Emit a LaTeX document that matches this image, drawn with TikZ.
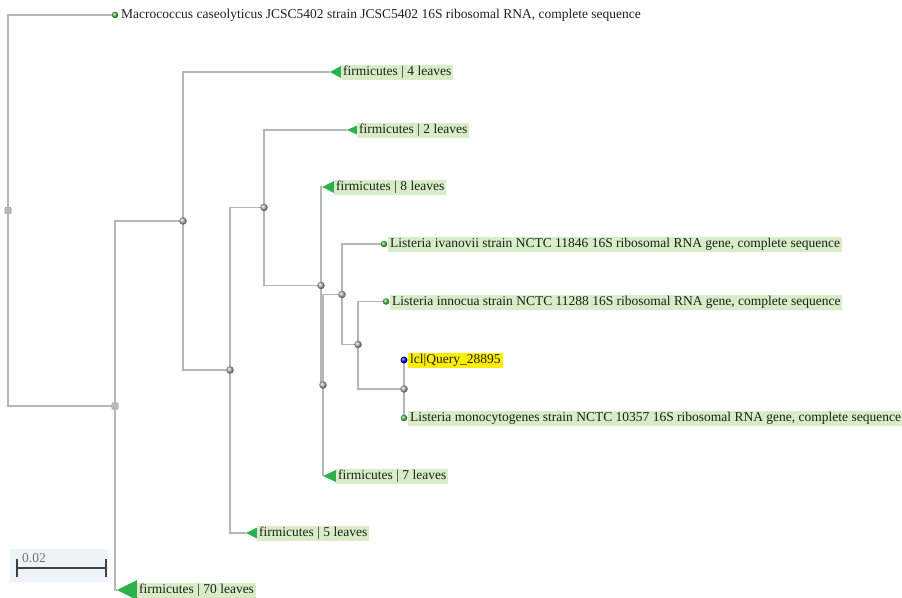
\documentclass[tikz,border=0pt]{standalone}
\usepackage{fontspec}
\setmainfont{Liberation Serif}
\definecolor{edgec}{HTML}{B0B8B8}
\definecolor{labg}{HTML}{D8ECC8}
\definecolor{trig}{HTML}{2EB04C}
\definecolor{qyel}{HTML}{FFEE00}
\definecolor{scbg}{HTML}{EEF3F7}
\definecolor{txt}{HTML}{1A221A}
\definecolor{dotg}{HTML}{48C048}
\begin{document}
\begin{tikzpicture}[x=1bp,y=-1bp,
  edge/.style={draw=edgec,line width=1.2bp},
  inode/.style={circle,inner sep=0pt,minimum size=7.5bp,shading=ball,ball color=gray!60},
  rnode/.style={rectangle,rounded corners=1bp,inner sep=0pt,minimum size=6.5bp,fill=gray!55,draw=gray!75,line width=0.4bp},
  leafdot/.style={circle,inner sep=0pt,minimum size=6.5bp,shading=ball,ball color=dotg},
  qdot/.style={circle,inner sep=0pt,minimum size=7bp,shading=ball,ball color=blue!75!black},
  tri/.style={fill=trig},
  leaflab/.style={anchor=west,fill=labg,inner xsep=2bp,inner ysep=0pt,minimum height=15bp,text=txt,font=\fontsize{13.55}{15}\selectfont},
  plainlab/.style={anchor=west,inner xsep=2bp,inner ysep=0pt,minimum height=15bp,text=txt,font=\fontsize{13.55}{15}\selectfont},
  qlab/.style={leaflab,fill=qyel}]
\useasboundingbox (0,0) rectangle (902,598);
% internal nodes
\coordinate (R) at (8,210.5);
\coordinate (I) at (115,406);
\coordinate (H) at (183,221);
\coordinate (G) at (230,370);
\coordinate (F) at (264,207.5);
\coordinate (A) at (321,285.5);
\coordinate (B) at (323,385);
\coordinate (C) at (342,294.5);
\coordinate (D) at (358,344.5);
\coordinate (E) at (404,389);
% leaves
\coordinate (mac) at (115,15);
\coordinate (t4) at (330,72);
\coordinate (t2) at (347,130);
\coordinate (t8) at (322,187);
\coordinate (t7) at (323,476);
\coordinate (t5) at (246,533);
\coordinate (t70) at (117,590);
\coordinate (iva) at (384,244);
\coordinate (inn) at (386,301.5);
\coordinate (qry) at (404,360);
\coordinate (mon) at (404,418);
% edges
\draw[edge] (R) |- (mac);
\draw[edge] (R) |- (I);
\draw[edge] (I) |- (H);
\draw[edge] (I) |- (t70);
\draw[edge] (H) |- (t4);
\draw[edge] (H) |- (G);
\draw[edge] (G) |- (F);
\draw[edge] (G) |- (t5);
\draw[edge] (F) |- (t2);
\draw[edge] (F) |- (A);
\draw[edge] (A) |- (t8);
\draw[edge] (A) |- (B);
\draw[edge] (B) |- (C);
\draw[edge] (B) |- (t7);
\draw[edge] (C) |- (iva);
\draw[edge] (C) |- (D);
\draw[edge] (D) |- (inn);
\draw[edge] (D) |- (E);
\draw[edge] (E) |- (qry);
\draw[edge] (E) |- (mon);
% triangles
\fill[tri] (t4) -- ++(11,-6) -- ++(0,12) -- cycle;
\fill[tri] (t2) -- ++(10,-4.5) -- ++(0,9) -- cycle;
\fill[tri] (t8) -- ++(12,-6) -- ++(0,12) -- cycle;
\fill[tri] (t7) -- ++(13,-6) -- ++(0,12) -- cycle;
\fill[tri] (t5) -- ++(11,-5.5) -- ++(0,11) -- cycle;
\fill[tri] (t70) -- ++(20,-10) -- ++(0,20) -- cycle;
% markers
\node[rnode] (Rn) at (R) {};
\node[rnode] (In) at (I) {};
\foreach \n in {H,G,F,A,B,C,D,E} \node[inode] (\n n) at (\n) {};
\node[leafdot] (macd) at (mac) {};
\node[leafdot] (ivad) at (iva) {};
\node[leafdot] (innd) at (inn) {};
\node[qdot] (qryd) at (qry) {};
\node[leafdot] (mond) at (mon) {};
% labels
\node[plainlab] (lmac) at (119,15.5) {Macrococcus caseolyticus JCSC5402 strain JCSC5402 16S ribosomal RNA, complete sequence};
\node[leaflab] (l4) at (341,72.5) {firmicutes | 4 leaves};
\node[leaflab] (l2) at (357,130.5) {firmicutes | 2 leaves};
\node[leaflab] (l8) at (334,187.5) {firmicutes | 8 leaves};
\node[leaflab] (l7) at (336,476.5) {firmicutes | 7 leaves};
\node[leaflab] (l5) at (257,533.5) {firmicutes | 5 leaves};
\node[leaflab] (l70) at (137,590.5) {firmicutes | 70 leaves};
\node[leaflab] (liva) at (388,244.5) {Listeria ivanovii strain NCTC 11846 16S ribosomal RNA gene, complete sequence};
\node[leaflab] (linn) at (390,302) {Listeria innocua strain NCTC 11288 16S ribosomal RNA gene, complete sequence};
\node[qlab] (lqry) at (408,360.5) {lcl|Query\_28895};
\node[leaflab] (lmon) at (408,418.5) {Listeria monocytogenes strain NCTC 10357 16S ribosomal RNA gene, complete sequence};
% scale bar
\node[fill=scbg,minimum width=98bp,minimum height=33bp,inner sep=0pt,anchor=north west] (scbox) at (10,549) {};
\coordinate (sl) at (17,568);
\coordinate (sr) at (106,568);
\draw[draw=black!75,line width=1.6bp] (sl) -- (sr);
\draw[draw=black!75,line width=1.6bp] (sl) ++(0,-9) -- ++(0,18);
\draw[draw=black!75,line width=1.6bp] (sr) ++(0,-9) -- ++(0,18);
\node[anchor=west,inner sep=0pt,text=black!55,font=\fontsize{13.5}{15}\selectfont] (sclab) at (22,558) {0.02};
\end{tikzpicture}
\end{document}
